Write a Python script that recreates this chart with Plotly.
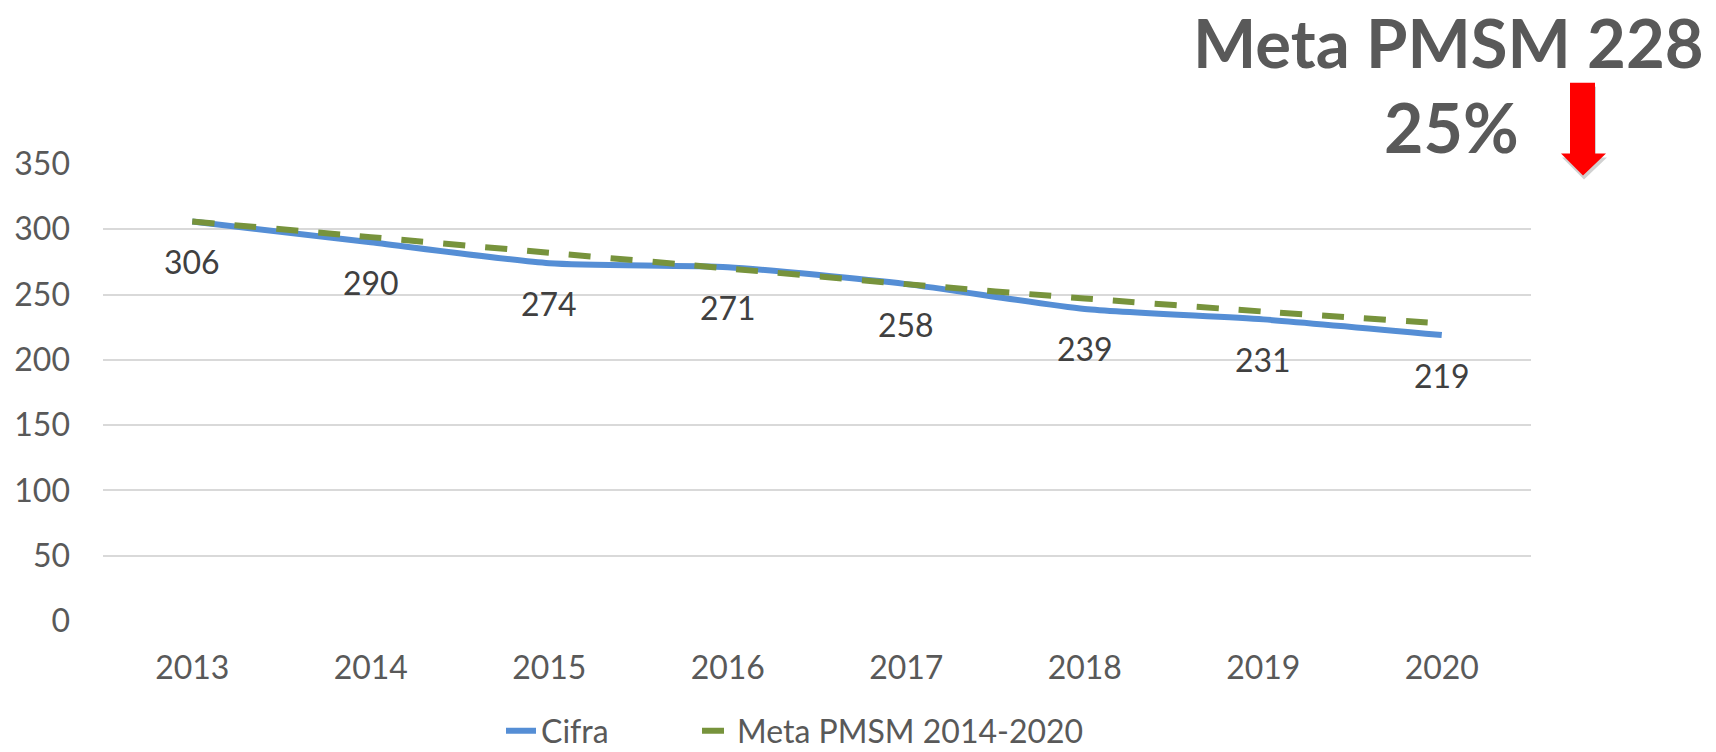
import plotly.graph_objects as go

years = ["2013", "2014", "2015", "2016", "2017", "2018", "2019", "2020"]
cifra = [306, 290, 274, 271, 258, 239, 231, 219]
meta = [306, 294, 282, 270, 258, 247, 237, 228]
y_ticks = [0, 50, 100, 150, 200, 250, 300, 350]
title_line1 = "Meta PMSM 228"
title_line2 = "25%"

# Page body margin is removed by post_script so the figure fills the window.
OFF = 0
W, H = 1716, 752
# Plot area in screen pixels
S_LEFT, S_RIGHT, S_TOP, S_BOTTOM = 103, 1531, 163.5, 621.3
L = S_LEFT - OFF
R = W - (S_RIGHT - OFF)
T = S_TOP - OFF
B = H - (S_BOTTOM - OFF)
PW, PH = S_RIGHT - S_LEFT, S_BOTTOM - S_TOP


def px(sx):
    return (sx - S_LEFT) / PW


def py(sy):
    return (S_BOTTOM - sy) / PH


def cx(sx):
    return (sx - OFF) / W


def cy(sy):
    return (H - (sy - OFF)) / H


FONT = "Lato"
TICK_COLOR = "#595959"

fig = go.Figure()
fig.add_trace(go.Scatter(
    x=years, y=cifra, name="Cifra", mode="lines", legend="legend",
    line=dict(color="#558ED5", width=6, shape="spline", smoothing=0.6),
))
fig.add_trace(go.Scatter(
    x=years, y=meta, name="Meta PMSM 2014-2020", mode="lines", legend="legend2",
    line=dict(color="#77933C", width=6, dash="22px,20px", shape="spline", smoothing=0.6),
))

annotations = []
for i, v in enumerate(cifra):
    annotations.append(dict(
        x=i, y=v, xref="x", yref="y", text=str(v), showarrow=False,
        yshift=-40, yanchor="middle",
        font=dict(family=FONT, size=32, color="#404040"),
    ))

annotations.append(dict(
    x=px(1448), y=py(41), xref="paper", yref="paper", text=f"<b>{title_line1}</b>",
    showarrow=False, xanchor="center", yanchor="middle",
    font=dict(family=FONT, size=67, color="#595959"),
))
annotations.append(dict(
    x=px(1451), y=py(126), xref="paper", yref="paper", text=f"<b>{title_line2}</b>",
    showarrow=False, xanchor="center", yanchor="middle",
    font=dict(family=FONT, size=68, color="#595959"),
))


def path(points):
    return "M " + " L ".join(f"{px(a)},{py(b)}" for a, b in points) + " Z"


arrow_pts = [(1570, 82), (1595, 82), (1595, 153), (1606, 153), (1583, 175),
             (1561, 153), (1570, 153)]
shadow_pts = [(a + 1, b + 4) for a, b in arrow_pts]

shapes = [
    dict(type="path", xref="paper", yref="paper", path=path(shadow_pts),
         fillcolor="rgba(0,0,0,0.18)", line=dict(width=0), layer="above"),
    dict(type="path", xref="paper", yref="paper", path=path(arrow_pts),
         fillcolor="#FF0000", line=dict(width=0), layer="above"),
]

legend_common = dict(orientation="h", xref="container", yref="container",
                     xanchor="left", yanchor="middle",
                     font=dict(family=FONT, size=32, color=TICK_COLOR),
                     bgcolor="rgba(0,0,0,0)")

fig.update_layout(
    width=W, height=H, autosize=False,
    margin=dict(l=L, r=R, t=T, b=B, pad=0, autoexpand=False),
    paper_bgcolor="white", plot_bgcolor="white",
    font=dict(family=FONT, color=TICK_COLOR),
    showlegend=True,
    legend=dict(x=cx(501), y=cy(731), **legend_common),
    legend2=dict(x=cx(697), y=cy(731), **legend_common),
    annotations=annotations,
    shapes=shapes,
)
fig.update_xaxes(
    type="category", range=[-0.5, 7.5], showgrid=False, showline=False, zeroline=False,
    tickfont=dict(family=FONT, size=32, color=TICK_COLOR), ticks="", ticklabelstandoff=25,
)
fig.update_yaxes(
    range=[0, 350], tickvals=y_ticks, showgrid=True, gridcolor="#D9D9D9", gridwidth=2,
    zeroline=False, showline=False,
    tickfont=dict(family=FONT, size=32, color=TICK_COLOR), ticks="", ticklabelstandoff=32,
)

fig.write_html(
    "out.html",
    config={"displayModeBar": False},
    post_script="document.body.style.margin='0';document.body.style.overflow='hidden';",
)
